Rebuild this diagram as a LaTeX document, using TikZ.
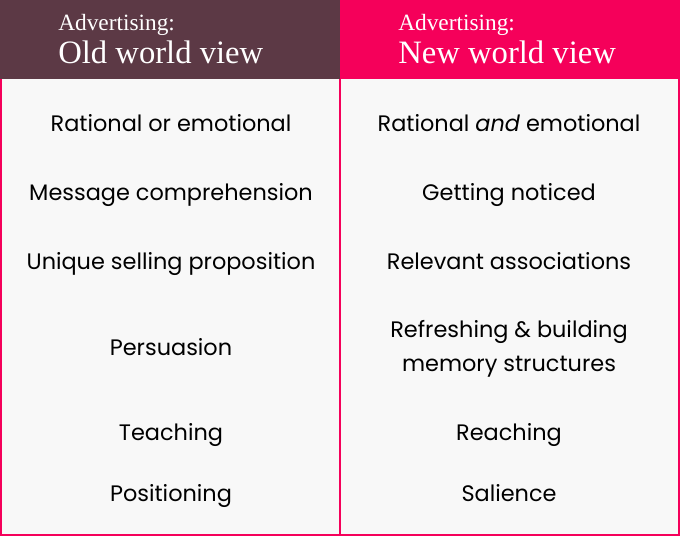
\documentclass[tikz,border=0pt]{standalone}
\usepackage{fontspec}
\setmainfont{Poppins}
\newfontfamily\hdfont{Liberation Serif}
\definecolor{maroon}{HTML}{5C3945}
\definecolor{pinkc}{HTML}{F5005A}
\definecolor{bodybg}{HTML}{F8F8F8}
\begin{document}
\begin{tikzpicture}[x=0.75pt,y=-0.75pt,
  cell/.style={font=\fontsize{16.8}{25.5}\selectfont,align=center,text=black,inner sep=0,anchor=mid},
  hd/.style={anchor=base west,text=white,inner sep=0}]
\useasboundingbox (0,0) rectangle (680,536);
\fill[bodybg] (0,78) rectangle (680,536);
\fill[maroon] (0,0) rectangle (340,79);
\fill[pinkc] (340,0) rectangle (680,79);
\draw[pinkc,line width=1.6pt] (1,79) -- (1,535) -- (679,535) -- (679,79);
\draw[pinkc,line width=1.6pt] (340,79) -- (340,535);
\node[hd,font=\hdfont\fontsize{17.5}{20}\selectfont] (l1) at (58,30) {Advertising:};
\node[hd,font=\hdfont\fontsize{24.5}{26}\selectfont] (l2) at (58,63) {Old world view};
\node[hd,font=\hdfont\fontsize{17.5}{20}\selectfont] (r1) at (398,30) {Advertising:};
\node[hd,font=\hdfont\fontsize{24.5}{26}\selectfont] (r2) at (398,63) {New world view};
\node[cell] (a1) at (171,128) {Rational or emotional};
\node[cell] (a2) at (171,197) {Message comprehension};
\node[cell] (a3) at (171,266) {Unique selling proposition};
\node[cell] (a4) at (171,352) {Persuasion};
\node[cell] (a5) at (171,437) {Teaching};
\node[cell] (a6) at (171,498) {Positioning};
\node[cell] (b1) at (509,128) {Rational \textit{and} emotional};
\node[cell] (b2) at (509,197) {Getting noticed};
\node[cell] (b3) at (509,266) {Relevant associations};
\node[cell,anchor=center] (b4) at (509,349) {Refreshing \& building\\memory structures};
\node[cell] (b5) at (509,437) {Reaching};
\node[cell] (b6) at (509,498) {Salience};
\end{tikzpicture}
\end{document}
